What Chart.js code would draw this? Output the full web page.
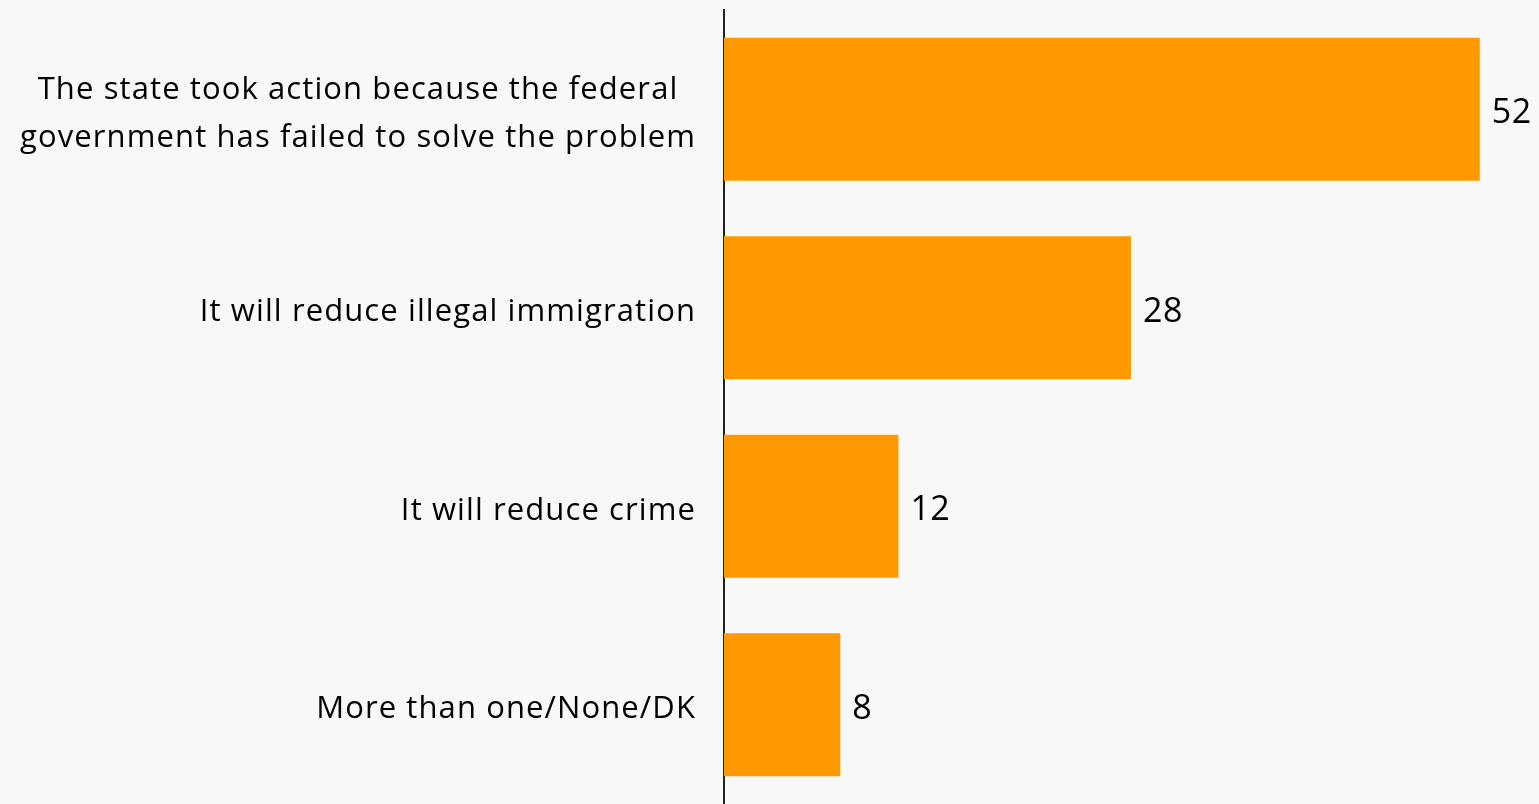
<!DOCTYPE html>
<html>
<head>
<meta charset="utf-8">
<script src="https://cdn.jsdelivr.net/npm/chart.js@4.4.0/dist/chart.umd.min.js"></script>
<style>
  html, body { margin: 0; padding: 0; background: #f8f8f8; }
  #wrap { width: 1539px; height: 804px; position: relative; }
</style>
</head>
<body>
<div id="wrap"><canvas id="c"></canvas></div>
<script>
const categories = [
  ["The state took action because the federal", "government has failed to solve the problem"],
  ["It will reduce illegal immigration"],
  ["It will reduce crime"],
  ["More than one/None/DK"]
];
const values = [52, 28, 12, 8];

const FONT = "'Open Sans', sans-serif";
const FS = 31;

const labelPlugin = {
  id: 'labels',
  afterDraw(chart) {
    const ctx = chart.ctx;
    const y = chart.scales.y;
    const meta = chart.getDatasetMeta(0);
    ctx.save();
    ctx.fillStyle = '#000';
    ctx.font = FS + 'px ' + FONT;
    ctx.letterSpacing = '1.1px';
    ctx.textBaseline = 'alphabetic';
    const rightEdge = chart.chartArea.left - 28;
    const lh = 48;
    categories.forEach((lines, i) => {
      const cy = y.getPixelForValue(i) + 13.5;
      const widths = lines.map(l => ctx.measureText(l).width);
      const w = Math.max(...widths);
      const cx = rightEdge - w / 2;
      ctx.textAlign = 'center';
      lines.forEach((l, j) => {
        const ly = cy + (j - (lines.length - 1) / 2) * lh;
        ctx.fillText(l, cx, ly);
      });
    });
    ctx.font = '34px ' + FONT;
    ctx.letterSpacing = '0.5px';
    ctx.textAlign = 'left';
    meta.data.forEach((bar, i) => {
      ctx.fillText(String(values[i]), bar.x + 12, bar.y + 14);
    });
    ctx.restore();
  }
};

new Chart(document.getElementById('c'), {
  type: 'bar',
  data: {
    labels: categories.map(c => c.join(' ')),
    datasets: [{
      data: values,
      backgroundColor: '#ff9900',
      borderWidth: 0,
      categoryPercentage: 1,
      barPercentage: 0.72
    }]
  },
  options: {
    indexAxis: 'y',
    responsive: true,
    maintainAspectRatio: false,
    animation: false,
    layout: { padding: { top: 10, right: 4, bottom: 0, left: 0 } },
    plugins: { legend: { display: false }, tooltip: { enabled: false } },
    scales: {
      x: {
        display: false,
        min: 0,
        max: 55.8
      },
      y: {
        grid: { display: false },
        border: { display: true, color: '#222', width: 2 },
        ticks: { display: false },
        afterFit(scale) { scale.width = 724; }
      }
    }
  },
  plugins: [labelPlugin]
});
</script>
</body>
</html>
